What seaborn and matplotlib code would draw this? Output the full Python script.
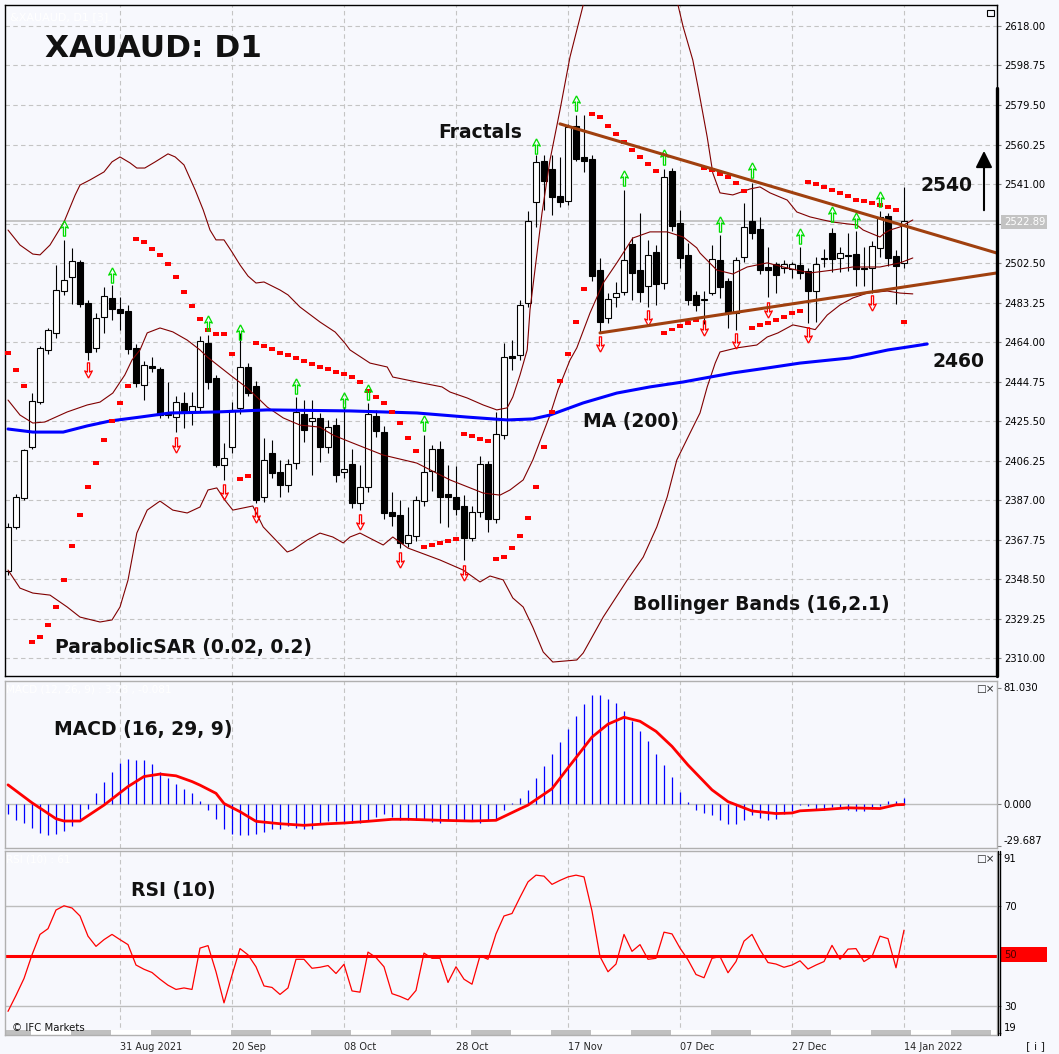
import matplotlib
matplotlib.use("Agg")
import matplotlib.pyplot as plt
import seaborn as sns
from matplotlib.path import Path
from matplotlib.lines import Line2D
from matplotlib.patches import Rectangle

# daily bars, index 0 = 11 Aug 2021 ... index 112 = 14 Jan 2022
opens = [2352.5, 2374.0, 2388.1, 2412.9, 2435.0, 2460.2, 2468.5, 2488.9, 2495.7, 2503.0,
         2483.1, 2461.2, 2476.3, 2485.5, 2480.1, 2479.2, 2461.2, 2443.1, 2452.4, 2450.9,
         2428.5, 2427.5, 2434.4, 2430.5, 2432.4, 2463.6, 2446.5, 2404.2, 2412.9, 2431.9,
         2451.9, 2442.6, 2388.6, 2410.0, 2400.8, 2394.4, 2405.1, 2429.0, 2425.6, 2427.1,
         2412.9, 2423.6, 2400.8, 2404.7, 2385.6, 2393.4, 2428.0, 2420.2, 2381.3, 2379.8,
         2366.2, 2369.6, 2386.6, 2401.2, 2412.0, 2390.0, 2388.6, 2384.2, 2368.6, 2381.3,
         2404.7, 2377.9, 2418.8, 2457.3, 2457.7, 2483.1, 2532.3, 2552.3, 2548.3, 2535.2,
         2532.8, 2569.3, 2554.2, 2553.2, 2499.1, 2475.8, 2486.0, 2488.4, 2511.8, 2499.1,
         2491.3, 2507.9, 2492.8, 2547.4, 2522.0, 2506.5, 2487.0, 2484.5, 2488.0, 2504.0,
         2493.8, 2478.2, 2505.5, 2523.0, 2519.1, 2500.6, 2502.1, 2500.1, 2499.6, 2501.6,
         2498.7, 2488.9, 2505.0, 2517.2, 2505.0, 2506.5, 2507.0, 2500.1, 2500.1, 2509.9,
         2525.5, 2506.0, 2502.6]
highs = [2375.9, 2390.0, 2412.0, 2439.2, 2462.0, 2471.0, 2501.6, 2513.8, 2509.9, 2504.0,
         2484.5, 2478.0, 2490.9, 2491.8, 2486.0, 2482.0, 2463.0, 2455.0, 2456.8, 2452.0,
         2444.6, 2438.0, 2439.7, 2439.7, 2467.0, 2467.5, 2448.0, 2414.9, 2434.9, 2468.5,
         2454.0, 2445.0, 2417.3, 2416.3, 2406.6, 2407.0, 2437.3, 2435.8, 2435.8, 2429.5,
         2426.0, 2427.0, 2432.4, 2412.0, 2404.2, 2434.4, 2431.0, 2423.0, 2391.0, 2387.0,
         2383.7, 2389.0, 2418.8, 2414.0, 2416.0, 2404.0, 2403.7, 2389.5, 2384.0, 2408.6,
         2406.0, 2430.0, 2463.6, 2465.0, 2484.5, 2527.9, 2555.2, 2555.2, 2555.2, 2554.2,
         2570.0, 2574.6, 2574.6, 2555.0, 2505.0, 2488.0, 2493.3, 2538.1, 2515.0, 2527.0,
         2513.8, 2511.3, 2548.3, 2549.0, 2528.4, 2512.3, 2489.0, 2489.0, 2511.3, 2516.2,
         2495.0, 2505.5, 2531.8, 2541.5, 2525.0, 2510.3, 2503.0, 2504.0, 2503.0, 2510.3,
         2500.0, 2505.5, 2509.4, 2519.6, 2510.3, 2517.2, 2518.1, 2510.3, 2513.3, 2527.9,
         2526.9, 2508.9, 2539.6]
lows = [2350.6, 2373.0, 2387.0, 2412.0, 2434.0, 2458.0, 2466.0, 2487.0, 2482.6, 2481.0,
        2455.3, 2459.0, 2468.5, 2475.0, 2470.0, 2458.0, 2442.0, 2435.8, 2449.5, 2427.0,
        2427.0, 2420.2, 2422.0, 2423.6, 2430.0, 2441.0, 2403.2, 2396.9, 2410.0, 2429.0,
        2438.0, 2385.6, 2386.0, 2398.0, 2388.6, 2391.0, 2402.0, 2415.4, 2399.3, 2405.6,
        2410.0, 2396.0, 2398.0, 2383.0, 2382.2, 2391.0, 2418.0, 2378.0, 2374.4, 2363.7,
        2364.0, 2367.1, 2384.0, 2391.5, 2375.9, 2374.0, 2380.0, 2357.9, 2367.0, 2379.0,
        2371.5, 2376.0, 2417.0, 2450.5, 2455.3, 2481.0, 2520.0, 2528.4, 2525.9, 2529.8,
        2531.0, 2552.0, 2546.9, 2494.0, 2468.5, 2473.3, 2481.0, 2487.0, 2484.5, 2483.6,
        2481.1, 2482.0, 2490.0, 2518.0, 2500.1, 2482.0, 2479.0, 2473.0, 2487.0, 2485.5,
        2470.9, 2470.0, 2503.0, 2514.0, 2497.0, 2486.0, 2488.0, 2497.7, 2495.0, 2494.8,
        2473.3, 2474.0, 2500.6, 2498.2, 2498.2, 2498.7, 2491.3, 2491.3, 2488.0, 2505.5,
        2501.1, 2482.6, 2500.0]
closes = [2374.0, 2388.6, 2411.5, 2435.3, 2461.2, 2469.9, 2489.4, 2494.3, 2503.5, 2482.6,
          2459.2, 2475.8, 2486.5, 2480.1, 2478.2, 2460.7, 2444.1, 2452.9, 2451.4, 2428.5,
          2429.2, 2434.9, 2430.5, 2432.9, 2464.6, 2444.6, 2404.2, 2407.6, 2431.0, 2451.9,
          2439.2, 2387.1, 2406.6, 2400.3, 2394.4, 2404.7, 2430.0, 2421.2, 2427.1, 2412.9,
          2422.7, 2399.3, 2402.3, 2385.6, 2393.4, 2429.0, 2420.7, 2380.8, 2379.3, 2366.2,
          2370.1, 2387.1, 2400.8, 2412.0, 2388.6, 2388.6, 2382.7, 2368.6, 2381.3, 2404.7,
          2377.9, 2419.3, 2456.8, 2456.3, 2482.1, 2523.0, 2551.8, 2542.5, 2534.7, 2532.3,
          2568.8, 2553.2, 2552.2, 2496.2, 2473.8, 2485.0, 2488.0, 2504.0, 2497.7, 2488.4,
          2506.4, 2492.3, 2544.4, 2520.6, 2505.0, 2484.5, 2482.1, 2485.0, 2504.5, 2490.9,
          2478.2, 2504.0, 2520.1, 2517.2, 2499.1, 2499.1, 2496.7, 2502.1, 2502.1, 2497.7,
          2488.9, 2502.1, 2504.5, 2504.5, 2507.4, 2505.9, 2499.6, 2499.6, 2510.8, 2525.0,
          2505.0, 2501.1, 2522.89]

sar = [2458.7, 2450.4, 2442.6, 2317.9, 2320.4, 2326.2, 2335.0, 2348.1, 2364.7, 2379.8,
       2393.4, 2405.1, 2416.3, 2425.6, 2434.4, 2442.6, 2514.2, 2512.8, 2509.4, 2506.5,
       2502.1, 2495.7, 2488.4, 2481.6, 2475.3, 2469.9, 2468.0, 2468.0, 2458.2, 2397.3,
       2398.8, 2463.6, 2462.1, 2460.7, 2458.7, 2457.7, 2456.3, 2454.8, 2453.4, 2451.9,
       2450.9, 2449.5, 2448.5, 2447.0, 2444.6, 2440.2, 2437.3, 2434.4, 2430.0, 2424.6,
       2417.3, 2411.0, 2364.2, 2365.2, 2366.2, 2367.1, 2368.1, 2419.3, 2418.3, 2416.8,
       2415.9, 2358.4, 2359.4, 2363.7, 2369.6, 2378.3, 2393.4, 2412.9, 2430.0, 2445.1,
       2458.2, 2473.8, 2489.9, 2575.1, 2573.7, 2569.3, 2565.4, 2561.5, 2557.6, 2554.2,
       2550.8, 2547.4, 2468.5, 2470.1, 2471.9, 2473.3, 2474.8, 2548.8, 2547.9, 2545.9,
       2544.4, 2541.5, 2537.6, 2470.9, 2472.4, 2473.3, 2474.8, 2476.3, 2478.2, 2479.2,
       2542.0, 2541.0, 2539.6, 2538.1, 2536.7, 2535.2, 2533.2, 2532.8, 2531.8, 2530.8,
       2529.8, 2528.4, 2473.8]

frac_up_idx = [7, 13, 25, 29, 36, 42, 45, 52, 66, 71, 77, 82, 89, 93, 99, 103, 106, 109]
frac_up_val = [2519.6, 2496.7, 2473.3, 2468.9, 2442.6, 2435.8, 2439.7, 2424.6, 2559.5,
               2580.5, 2544.0, 2554.2, 2521.6, 2547.9, 2515.7, 2526.4, 2523.5, 2533.7]
frac_dn_idx = [10, 21, 27, 31, 44, 49, 57, 74, 80, 87, 91, 95, 100, 108]
frac_dn_val = [2450.4, 2413.9, 2391.0, 2379.8, 2376.4, 2357.9, 2351.6, 2463.1, 2475.8,
               2470.9, 2464.6, 2479.7, 2467.5, 2483.1]

bb_up_x = [0, 1.5, 3.1, 4, 5.25, 7, 8.4, 9, 10.25, 12, 13, 14, 15.25, 16.1, 17.1, 18.4, 20,
           20.9, 22, 23.4, 24.4, 25.25, 26, 27, 28, 29, 30, 31, 32, 34, 35, 36.5, 39, 40.9,
           42.1, 42.75, 45.25, 47.4, 48.1, 51.1, 54.25, 55.25, 57.4, 59.4, 61.1, 62.4, 63.1,
           64, 64.9, 65.25, 66.75, 67.75, 69, 70.25, 71.9, 74, 77, 80, 83.75, 84.4, 85.6,
           86.25, 87.4, 88.1, 89, 90.6, 92.75, 94, 95.25, 97.4, 98.6, 100.25, 101.9, 103.1,
           104.9, 106.1, 106.9, 107.75, 109, 109.6, 110.25, 111.5, 113.1]
bb_up = [2518.6, 2511.3, 2506.9, 2506.5, 2511.3, 2522.5, 2535.7, 2540.5, 2543.0, 2546.9,
         2551.8, 2554.2, 2551.3, 2548.8, 2548.8, 2551.8, 2555.7, 2554.2, 2550.3, 2538.1,
         2528.4, 2518.6, 2513.8, 2513.8, 2507.9, 2501.6, 2496.2, 2492.8, 2493.3, 2489.4,
         2487.0, 2481.1, 2473.8, 2468.9, 2463.6, 2460.2, 2453.8, 2451.9, 2447.0, 2444.6,
         2442.2, 2439.7, 2436.8, 2433.4, 2431.0, 2432.0, 2437.3, 2448.0, 2460.2, 2479.7,
         2526.9, 2552.7, 2577.1, 2602.9, 2628.2, 2655.0, 2668.0, 2662.0, 2628.2, 2617.5,
         2601.4, 2588.3, 2563.9, 2546.4, 2536.7, 2535.7, 2538.6, 2539.6, 2536.7, 2533.2,
         2527.4, 2525.0, 2523.5, 2522.5, 2521.6, 2521.1, 2518.6, 2517.2, 2515.2, 2517.2,
         2518.6, 2520.1, 2523.5]
bb_mid_x = [0, 1.5, 3.1, 4.6, 7.4, 9.9, 11.5, 13.1, 14.6, 15.5, 16.5, 17.4, 19, 20.6, 22.4,
            24, 24.9, 28.1, 29.9, 31.5, 32.4, 34.4, 36.5, 39, 40.6, 42.75, 46.9, 51.1, 55.25,
            59.4, 61.5, 62.75, 64.4, 65.6, 67.75, 68.75, 70.25, 71.1, 72.75, 74.4, 76.1,
            78.1, 80.25, 82.4, 84.4, 86.1, 86.5, 88.6, 90.6, 92.4, 94.9, 96.9, 98.6, 100.25,
            103.1, 105.6, 109, 111.5, 113.1]
bb_mid = [2435.8, 2428.5, 2424.6, 2425.1, 2430.0, 2433.4, 2434.8, 2439.2, 2448.0, 2455.3,
          2460.2, 2468.5, 2470.9, 2469.0, 2465.0, 2460.2, 2456.8, 2447.0, 2441.7, 2435.8,
          2432.4, 2427.1, 2423.6, 2422.6, 2418.8, 2415.4, 2409.0, 2405.1, 2396.9, 2390.5,
          2389.5, 2392.0, 2396.9, 2406.6, 2428.5, 2440.7, 2455.3, 2461.2, 2478.2, 2492.8,
          2502.6, 2514.7, 2517.7, 2517.7, 2515.2, 2509.9, 2507.4, 2499.1, 2497.2, 2500.6,
          2502.6, 2500.6, 2499.1, 2497.7, 2499.1, 2500.6, 2500.6, 2502.6, 2505.0]
bb_low_x = [0, 1.5, 3.1, 5.25, 7.4, 9, 11.5, 13, 14, 15, 16.1, 17.4, 19, 20.6, 22.4, 24, 25,
            26.1, 27.1, 28.1, 30.6, 31.9, 33.1, 34.9, 35.6, 37.4, 39, 40.6, 41.9, 42.75, 44,
            46.9, 48.1, 50, 54, 56.9, 59, 60.25, 61.9, 63.1, 64.4, 65.6, 66.9, 68.1, 71.1,
            71.9, 74.4, 77.4, 79.4, 81.1, 82.4, 83.6, 85.25, 86.5, 87.4, 88.4, 89, 91.1, 93.6,
            94.9, 96.25, 98.1, 99.9, 100.9, 102.4, 104, 105.6, 107.4, 109.9, 111.5, 113.1]
bb_low = [2353.0, 2344.2, 2341.8, 2340.8, 2335.0, 2330.1, 2327.7, 2328.7, 2335.0, 2348.1,
          2371.0, 2382.2, 2386.6, 2382.2, 2380.8, 2383.7, 2392.0, 2393.0, 2387.1, 2382.2,
          2384.2, 2374.0, 2369.1, 2361.8, 2362.8, 2367.6, 2371.0, 2369.1, 2366.2, 2369.1,
          2371.0, 2365.2, 2369.1, 2363.7, 2357.9, 2353.0, 2347.2, 2350.1, 2348.2, 2339.4,
          2335.0, 2325.2, 2313.1, 2308.2, 2309.2, 2312.6, 2330.1, 2348.1, 2359.3, 2374.0,
          2388.6, 2406.6, 2419.7, 2429.5, 2442.2, 2453.8, 2459.2, 2461.2, 2462.6, 2466.5,
          2468.5, 2472.4, 2471.0, 2470.1, 2477.2, 2482.1, 2485.5, 2487.9, 2488.9, 2487.9,
          2487.5]
ma200_x = [0, 3.1, 6.9, 9.9, 12.75, 16.5, 20.25, 26.1, 32.4, 42.75, 51.1, 57.4, 62.4, 65.6,
           67.75, 71.9, 76.1, 80.25, 84.4, 86.5, 90.6, 94.9, 99, 105.25, 110, 112.4, 114.9]
ma200 = [2421.7, 2420.2, 2420.2, 2423.2, 2425.6, 2427.5, 2429.5, 2430.0, 2431.0, 2430.5,
         2429.5, 2427.5, 2426.1, 2426.6, 2428.5, 2434.4, 2439.2, 2442.2, 2444.6, 2446.1,
         2449.0, 2451.4, 2453.8, 2456.3, 2460.2, 2461.6, 2463.1]

trend_top_x, trend_top = [69, 123.6], [2570.3, 2507.4]
trend_bot_x, trend_bot = [74, 123.6], [2468.5, 2497.7]
last_price = 2522.89

macd_hist = [-6.8, -11, -13.2, -16.7, -20.2, -21.4, -20.9, -19, -15.3, -10.6,
             -3.5, 7.3, 15.5, 22.5, 28.4, 31.2, 30.3, 30.3, 27.5, 22.5,
             17.8, 13.9, 10.1, 7.3, 2.1, -4.0, -10.3, -17.4, -20.9, -21.4,
             -21.4, -20.9, -19.7, -17.4, -17.4, -15.7, -16.7, -17.4, -17.4, -13.2,
             -12, -12, -13.4, -13.4, -13.2, -11, -9.2, -6.8, -9.2, -11,
             -11, -11, -11, -12.7, -13.2, -11, -11, -11, -12, -13.2,
             -11.5, -10.3, -4, 0.7, 4.2, 9.6,
             17.9, 26.6, 34.4, 43.1, 52.1, 61.5, 69.7, 75.6, 75.6, 73.3,
             70.4, 65, 58, 50.9, 43.8, 34.4, 27.3, 18.4, 8.5, 1.4,
             -4, -6.3, -7.5, -11.5, -13.9, -14.3, -11.5, -8, -9.6, -11,
             -10.3, -6.8, -5.2, -0.9, -1.6, -3.3, -4, -2.1, -2.1, -4,
             -4.9, -4.9, -3.3, -1.6, 2.1, 2.1, 3.8]
signal_x = [0, 3, 6, 7, 9, 12, 15, 17, 19, 21, 23, 24, 26, 27, 29, 31, 34, 37, 40, 42, 45,
            48, 50, 54, 58, 61, 64, 65, 68, 70, 73, 75, 77, 79, 81, 83, 85, 88, 90, 93, 96,
            98, 99, 102, 105, 109, 111, 112]
signal = [13.2, 0.7, -10.4, -12, -12, -0.9, 12, 19, 20.7, 19.5, 15.5, 13, 7.3, 0.2, -5.5,
          -12.2, -13.9, -15, -13.9, -13.4, -12.2, -10.8, -10.8, -11.5, -12, -11.5, -3.5,
          -0.9, 10.5, 25, 46.5, 55.5, 60.3, 57.5, 50.5, 40, 27, 9.7, 1.5, -5, -6.8, -6.4,
          -4.9, -4, -2.8, -3.3, -0.7, -0.5]

rsi = [27.7, 34.1, 40.9, 50.4, 58.6, 60.9, 68.4, 70.1, 69.2, 66,
       57.9, 53.8, 56.5, 58.6, 56.5, 54.5, 46.3, 44.6, 43.3, 40.6,
       38.2, 36.5, 37.1, 36.5, 53.1, 54.1, 43.6, 31.1, 42.2, 52.9,
       50.4, 45.6, 37.9, 37.3, 34.5, 37.1, 48.6, 48.6, 45, 45.4,
       46.1, 42.9, 46.6, 35.9, 35.4, 51.5, 49.3, 45.6, 34.8, 33.7,
       32.3, 36.1, 51.1, 49, 49, 39.3, 45.6, 40.6, 38.6, 50,
       48.6, 58.8, 66, 67, 73.5, 79.7,
       82.4, 82, 78.7, 80.3, 81.7, 82.4, 81.7, 68, 49.7, 43.6,
       46.7, 58.6, 51.8, 54.5, 48.6, 49, 59.5, 58.8, 53.1, 48.4,
       42.5, 41.2, 49, 49.7, 43.2, 47.7, 55.9, 58.6, 52.4, 47.3,
       46.7, 45.4, 46.3, 48, 44.7, 46.3, 47.7, 54.2, 48.6, 52.7,
       52.9, 47.7, 49.7, 57.9, 56.9, 45.2, 60.3]

date_idx = [14, 28, 42, 56, 70, 84, 98, 112]
date_labels = ["31 Aug 2021", "20 Sep", "08 Oct", "28 Oct", "17 Nov", "07 Dec", "27 Dec",
               "14 Jan 2022"]
price_ticks = [2618.00, 2598.75, 2579.50, 2560.25, 2541.00, 2521.75, 2502.50, 2483.25,
               2464.00, 2444.75, 2425.50, 2406.25, 2387.00, 2367.75, 2348.50, 2329.25, 2310.00]
price_labels = ["2618.00", "2598.75", "2579.50", "2560.25", "2541.00", "", "2502.50",
                "2483.25", "2464.00", "2444.75", "2425.50", "2406.25", "2387.00", "2367.75",
                "2348.50", "2329.25", "2310.00"]
macd_ticks = [81.03, 0.0, -29.687]
macd_labels = ["81.030", "0.000", "-29.687"]
rsi_ticks = [91, 70, 30, 19]
rsi_labels = ["91", "70", "30", "19"]

W, H = 1059, 1054
BG = "#F7F8FD"
GRID = "#C4C4C4"

sns.set_style("white", rc={"axes.facecolor": BG, "figure.facecolor": BG})
plt.rcParams["font.family"] = ["DejaVu Sans"]

fig = plt.figure(figsize=(W / 100, H / 100), dpi=100)


def box(x0, y0, x1, y1):
    return [x0 / W, 1 - y1 / H, (x1 - x0) / W, (y1 - y0) / H]


def ftext(x, y, s, **kw):
    return fig.text(x / W, 1 - y / H, s, **kw)


ax = fig.add_axes(box(5, 5, 997, 676))
ax_m = fig.add_axes(box(5, 681, 997, 848))
ax_r = fig.add_axes(box(5, 851, 997, 1035))

idx = list(range(len(closes)))

# ---- price panel ----
body_lo = [min(o, c) for o, c in zip(opens, closes)]
body_h = [max(abs(c - o), 0.5) for o, c in zip(opens, closes)]
body_col = ["white" if c >= o else "black" for o, c in zip(opens, closes)]
ax.vlines(idx, lows, highs, color="black", lw=0.8, zorder=2)
ax.bar(idx, body_h, bottom=body_lo, width=0.74, color=body_col, edgecolor="black",
       linewidth=0.8, zorder=2.5)

ax.axhline(last_price, color="#BDBDBD", lw=1.2, zorder=1.5)

for xs, ys in [(bb_up_x, bb_up), (bb_mid_x, bb_mid), (bb_low_x, bb_low)]:
    sns.lineplot(x=xs, y=ys, ax=ax, color="#800000", linewidth=0.8, estimator=None,
                 sort=False, zorder=3)
sns.lineplot(x=ma200_x, y=ma200, ax=ax, color="#0000FF", linewidth=2.2, estimator=None,
             sort=False, zorder=3.2)

rect = Path([(-1, -0.55), (1, -0.55), (1, 0.55), (-1, 0.55), (-1, -0.55)],
            [Path.MOVETO, Path.LINETO, Path.LINETO, Path.LINETO, Path.CLOSEPOLY])
sns.scatterplot(x=idx, y=sar, ax=ax, marker=rect, s=20, color="#FF0000",
                edgecolor="none", zorder=4)

up_arrow = Path([(0, 1), (0.5, 0.05), (0.14, 0.2), (0.14, -1), (-0.14, -1), (-0.14, 0.2),
                 (-0.5, 0.05), (0, 1)])
dn_arrow = Path([(x, -y) for x, y in up_arrow.vertices])
ax.plot(frac_up_idx, frac_up_val, ls="none", marker=up_arrow, ms=11, mfc="none",
        mec="#00DD00", mew=0.9, zorder=4)
ax.plot(frac_dn_idx, frac_dn_val, ls="none", marker=dn_arrow, ms=11, mfc="none",
        mec="#FF0000", mew=0.9, zorder=4)

sns.lineplot(x=trend_top_x, y=trend_top, ax=ax, color="#A0400F", linewidth=2.2, zorder=5)
sns.lineplot(x=trend_bot_x, y=trend_bot, ax=ax, color="#A0400F", linewidth=2.2, zorder=5)

ax.annotate("", xy=(122, 2558.5), xytext=(122, 2526.9),
            arrowprops=dict(arrowstyle="-|>,head_length=0.5,head_width=0.25",
                            color="black", lw=1.5, mutation_scale=20),
            annotation_clip=False, zorder=6)

ax.set_ylim(2301.4, 2628.2)
ax.set_yticks(price_ticks)
ax.set_yticklabels(price_labels)

# ---- MACD panel ----
ax_m.axhline(0, color="#BDBDBD", lw=1.0, zorder=1)
ax_m.vlines(idx, 0, macd_hist, color="#0000FF", lw=0.9, zorder=2)
sns.lineplot(x=signal_x, y=signal, ax=ax_m, color="#FF0000", linewidth=2.0,
             estimator=None, sort=False, zorder=3)
ax_m.set_ylim(-30.8, 85.56)
ax_m.set_yticks(macd_ticks)
ax_m.set_yticklabels(macd_labels)

# ---- RSI panel ----
ax_r.axhline(70, color="#BDBDBD", lw=1.0, zorder=1)
ax_r.axhline(30, color="#BDBDBD", lw=1.0, zorder=1)
ax_r.axhline(50, color="#FF0000", lw=2.2, zorder=2)
sns.lineplot(x=idx, y=rsi, ax=ax_r, color="#FF0000", linewidth=0.9, zorder=3)
ax_r.set_ylim(18.2, 92.1)
ax_r.set_yticks(rsi_ticks)
ax_r.set_yticklabels(rsi_labels)
ax_r.axvspan(-1, 125, ymin=0, ymax=5 / 184, color="white", lw=0, zorder=1)
for k in range(13):
    ax_r.axvspan(-2.1 + 10 * k, 2.9 + 10 * k, ymin=0, ymax=5 / 184, color="#C0C0C0",
                 lw=0, zorder=1.1)

# ---- common axis styling ----
for a in (ax, ax_m, ax_r):
    a.set_xlim(-0.375, 123.625)
    a.set_xticks(date_idx)
    a.set_xlabel("")
    a.set_ylabel("")
    a.set_axisbelow(True)
    a.grid(True, axis="x", color=GRID, linestyle=(0, (4, 3)), linewidth=0.8)
    a.yaxis.tick_right()
    a.tick_params(axis="y", which="both", right=True, left=False, labelright=True,
                  labelleft=False, length=2.9, width=0.8, color="#808080", pad=2,
                  labelsize=7.2, labelcolor="black")
    a.tick_params(axis="x", length=0, labelbottom=False)
    if a.get_legend() is not None:
        a.get_legend().remove()
ax.grid(True, axis="y", color=GRID, linestyle=(0, (4, 3)), linewidth=0.8)
ax_r.set_xticklabels(date_labels, ha="left")
ax_r.tick_params(axis="x", labelbottom=True, labelsize=7, pad=5)

# edge labels of the small panels sit inside the panel, as on the terminal scale
for a in (ax_m, ax_r):
    ticks = a.yaxis.get_major_ticks()
    ticks[0].label2.set_va("top" if a is ax_r else "center")
    ticks[-1].label2.set_va("bottom")

for s in ax.spines.values():
    s.set_color("black")
    s.set_linewidth(1.0)
for a in (ax_m, ax_r):
    for s in a.spines.values():
        s.set_color("#B0B0B0")
        s.set_linewidth(1.0)

fig.add_artist(Line2D([997 / W] * 2, [1 - 88 / H, 1 - 676 / H], color="black", lw=2.4,
                      transform=fig.transFigure))
for xp in (997.5, 1000):
    fig.add_artist(Line2D([xp / W] * 2, [1 - 851 / H, 1 - 1035 / H], color="black",
                          lw=1.0, transform=fig.transFigure))

# value boxes on the right scale
fig.add_artist(Rectangle((1001 / W, 1 - 229 / H), 46 / W, 14 / H, transform=fig.transFigure,
                         fc="#C3C3C3", ec="none"))
ftext(1004, 222, "2522.89", color="white", fontsize=7.2, va="center")
fig.add_artist(Rectangle((1001 / W, 1 - 962 / H), 46 / W, 15 / H, transform=fig.transFigure,
                         fc="#FF0000", ec="none"))
ftext(1004, 954.5, "50", color="#4A0000", fontsize=7.2, va="center")

# window icons
fig.add_artist(Rectangle((987 / W, 1 - 16 / H), 7 / W, 6 / H, transform=fig.transFigure,
                         fc="none", ec="black", lw=0.8))
ftext(976, 689, "□×", fontsize=7.5, va="center")
ftext(976, 859, "□×", fontsize=7.5, va="center")
ftext(1026, 1046, "[ i ]", fontsize=8, va="center")

# faint panel captions
ftext(10, 17, "&XAUAUD, D1 [3]", color="white", fontsize=8, va="center")
ftext(6, 689, "MACD (12, 26, 9) : 3.28 , -0.081", color="white", fontsize=7.5, va="center")
ftext(6, 859, "RSI (10) : 61", color="white", fontsize=7.5, va="center")

# annotations
bold = dict(fontweight="bold", color="#111111", va="baseline")
ftext(45, 57, "XAUAUD: D1", fontsize=22.5, **bold)
ftext(438, 138, "Fractals", fontsize=13.5, **bold)
ftext(920, 191, "2540", fontsize=13.5, **bold)
ftext(933, 367, "2460", fontsize=13.5, **bold)
ftext(583, 427, "MA (200)", fontsize=13.5, **bold)
ftext(633, 610, "Bollinger Bands (16,2.1)", fontsize=13.5, **bold)
ftext(55, 653, "ParabolicSAR (0.02, 0.2)", fontsize=13.5, **bold)
ftext(54, 735, "MACD (16, 29, 9)", fontsize=13.5, **bold)
ftext(131, 896, "RSI (10)", fontsize=13.5, **bold)
ftext(12, 1031, "© IFC Markets", fontsize=7.3, color="#111111", va="baseline")

fig.savefig("out.png", dpi=100, facecolor=BG)
